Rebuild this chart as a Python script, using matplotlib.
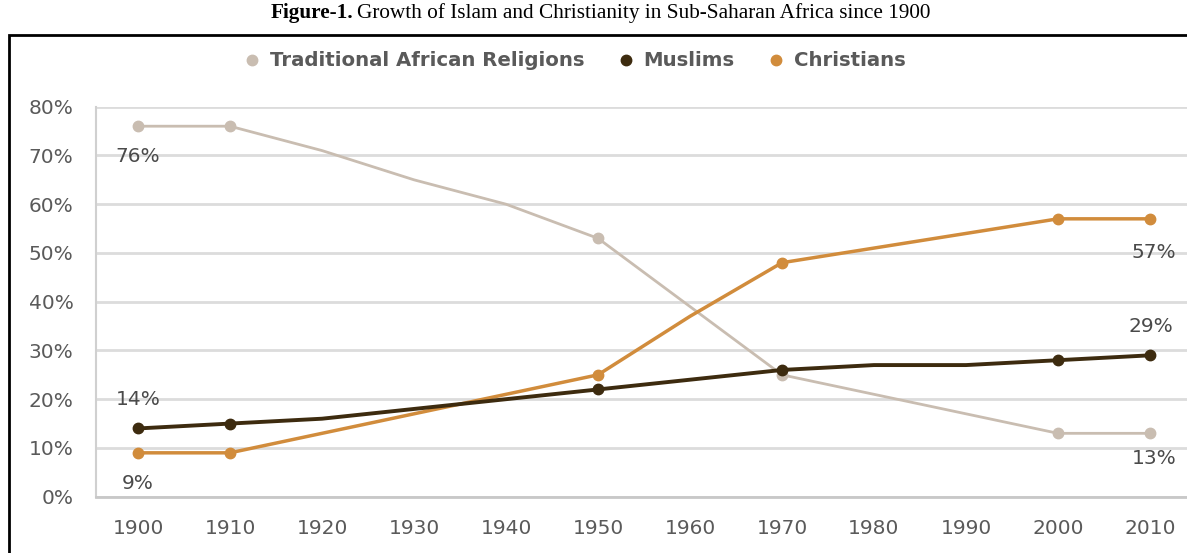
import matplotlib
matplotlib.use("Agg")
import matplotlib.pyplot as plt
from matplotlib.lines import Line2D
from matplotlib.patches import Rectangle

years = [1900, 1910, 1920, 1930, 1940, 1950, 1960, 1970, 1980, 1990, 2000, 2010]
traditional = [76, 76, 71, 65, 60, 53, 39, 25, 21, 17, 13, 13]
muslims = [14, 15, 16, 18, 20, 22, 24, 26, 27, 27, 28, 29]
christians = [9, 9, 13, 17, 21, 25, 37, 48, 51, 54, 57, 57]
marker_years = [1900, 1910, 1950, 1970, 2000, 2010]
series_names = ["Traditional African Religions", "Muslims", "Christians"]
yticks = [0, 10, 20, 30, 40, 50, 60, 70, 80]
title_bold = "Figure-1."
title_rest = "Growth of Islam and Christianity in Sub-Saharan Africa since 1900"

c_trad = "#c9bdb1"
c_mus = "#3d2b0f"
c_chr = "#d18c3c"
txt = "#5a5a5a"

W, H = 1187, 553
fig = plt.figure(figsize=(W / 100, H / 100), dpi=100)
fig.patch.set_facecolor("white")

# border box
fig.patches.append(Rectangle((8.5 / W, -0.2), 1.2, (553 - 35) / H + 0.2, transform=fig.transFigure,
                             fill=False, edgecolor="black", linewidth=2.0))

# title
fig.text(353 / W, 1 - 13 / H, title_bold, ha="right", va="center", family="Liberation Serif",
         fontweight="bold", fontsize=15.3, color="black")
fig.text(357 / W, 1 - 13 / H, title_rest, ha="left", va="center", family="Liberation Serif",
         fontsize=15.3, color="black")

ax_left = 95.7 / W
ax_right = 1192.3 / W
ax_bottom = (553 - 496.7) / H
ax_top = (553 - 106.7) / H
ax = fig.add_axes([ax_left, ax_bottom, ax_right - ax_left, ax_top - ax_bottom])
ax.set_xlim(1895.4, 2014.6)
ax.set_ylim(0, 80)

ax.set_yticks(yticks)
ax.set_yticklabels([f"{v}%" for v in yticks])
ax.set_xticks(years)
ax.set_xticklabels([str(y) for y in years])
ax.tick_params(length=0, labelsize=14.5, labelcolor=txt)
ax.tick_params(axis="y", pad=16)
ax.tick_params(axis="x", pad=16)
for lab in ax.get_xticklabels() + ax.get_yticklabels():
    lab.set_family("DejaVu Sans")

ax.grid(axis="y", color="#dcdcdc", linewidth=2.0)
ax.set_axisbelow(True)
for s in ["top", "right"]:
    ax.spines[s].set_visible(False)
ax.spines["left"].set_color("#d0d0d0")
ax.spines["left"].set_linewidth(1.5)
ax.spines["bottom"].set_color("#c8c8c8")
ax.spines["bottom"].set_linewidth(2.0)

def mk(vals):
    return [vals[years.index(y)] for y in marker_years]

ax.plot(years, traditional, color=c_trad, linewidth=2.0, zorder=3)
ax.plot(marker_years, mk(traditional), "o", color=c_trad, markersize=7.5, zorder=4)
ax.plot(years, christians, color=c_chr, linewidth=2.5, zorder=5)
ax.plot(marker_years, mk(christians), "o", color=c_chr, markersize=7.5, zorder=6)
ax.plot(years, muslims, color=c_mus, linewidth=2.8, zorder=7)
ax.plot(marker_years, mk(muslims), "o", color=c_mus, markersize=7.5, zorder=8)

lab_col = "#4a4a4a"
def lab(x, v, dy, dx=0):
    ax.annotate(f"{v}%", (x, v), xytext=(dx, dy), textcoords="offset points", ha="center",
                va="center", fontsize=14.5, color=lab_col, family="DejaVu Sans")

lab(1900, traditional[0], -22)
lab(1900, muslims[0], 21)
lab(1900, christians[0], -22)
lab(2010, christians[-1], -24, 3)
lab(2010, muslims[-1], 21, 1)
lab(2010, traditional[-1], -18, 3)

handles = [Line2D([], [], marker="o", linestyle="", color=c, markersize=7.5)
           for c in [c_trad, c_mus, c_chr]]
leg = fig.legend(handles, series_names, loc="center", bbox_to_anchor=(574 / W, 1 - 61 / H),
                 ncol=3, frameon=False, fontsize=14.2, handletextpad=0.4, columnspacing=1.6,
                 handlelength=1.0)
for t in leg.get_texts():
    t.set_color(txt)
    t.set_fontweight("bold")

fig.savefig("out.png", dpi=100, facecolor="white")
